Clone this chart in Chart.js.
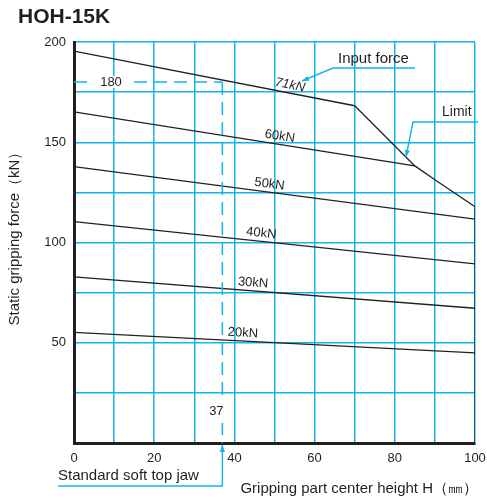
<!DOCTYPE html>
<html>
<head>
<meta charset="utf-8">
<script src="https://cdn.jsdelivr.net/npm/chart.js@4.4.1/dist/chart.umd.min.js"></script>
<style>
  html, body { margin: 0; padding: 0; background: #fff; }
</style>
</head>
<body>
<canvas id="chart" width="487" height="500"></canvas>
<script>
// HOH-15K: static gripping force against gripping part center height

const inputForces = ['20kN', '30kN', '40kN', '50kN', '60kN', '71kN'];
// each curve runs from H = 0 to where it meets the limit line
const curveHeights = [[0, 100], [0, 100], [0, 100], [0, 100], [0, 85], [0, 70]];
const curveForces = [[55.2, 44.9], [82.9, 67.2], [110.4, 89.3], [137.8, 111.7], [165.2, 138.2], [195.5, 168.2]];
// where each curve gets its label
const labelHeights = [42, 44.5, 46.5, 48.5, 51, 53.5];

const limitHeights = [70, 85, 90, 95, 100, 100];
const limitForces = [168.2, 138.2, 131.3, 124.6, 117.8, 0];

// standard soft top jaw reference point
const stdJawHeight = 37;
const stdJawForce = 180;

const xTicks = [0, 20, 40, 60, 80, 100];
const yTicks = [50, 100, 150, 200];

const BLUE = '#14b4ea';
const INK = '#231f20';
const FONT = '"Liberation Sans", Arial, sans-serif';

const curveSets = inputForces.map((name, i) => ({
  label: name,
  data: curveHeights[i].map((x, j) => ({ x, y: curveForces[i][j] })),
  borderColor: INK,
  borderWidth: 1.3,
  pointRadius: 0,
  showLine: true
}));

const limitSet = {
  label: 'Limit',
  data: limitHeights.map((x, j) => ({ x, y: limitForces[j] })),
  borderColor: INK,
  borderWidth: 1.3,
  pointRadius: 0,
  showLine: true
};

const refSets = [
  { label: 'ref-h', data: [{ x: 0, y: stdJawForce }, { x: stdJawHeight, y: stdJawForce }] },
  { label: 'ref-v', data: [{ x: stdJawHeight, y: stdJawForce }, { x: stdJawHeight, y: 0 }] }
].map(d => Object.assign(d, {
  borderColor: BLUE, borderWidth: 1.5, borderDash: [13, 7], pointRadius: 0, showLine: true
}));

function arrowHead(ctx, fx, fy, tx, ty) {
  const a = Math.atan2(ty - fy, tx - fx);
  const len = 7, w = 2.6;
  ctx.beginPath();
  ctx.moveTo(tx, ty);
  ctx.lineTo(tx - len * Math.cos(a) + w * Math.sin(a), ty - len * Math.sin(a) - w * Math.cos(a));
  ctx.lineTo(tx - len * Math.cos(a) - w * Math.sin(a), ty - len * Math.sin(a) + w * Math.cos(a));
  ctx.closePath();
  ctx.fill();
}

function callout(ctx, pts) {
  ctx.beginPath();
  ctx.moveTo(pts[0][0], pts[0][1]);
  for (let i = 1; i < pts.length; i++) ctx.lineTo(pts[i][0], pts[i][1]);
  ctx.stroke();
  const n = pts.length;
  arrowHead(ctx, pts[n - 2][0], pts[n - 2][1], pts[n - 1][0], pts[n - 1][1]);
}

const annotations = {
  id: 'annotations',
  afterDatasetsDraw(chart) {
    const ctx = chart.ctx;
    const xs = chart.scales.x, ys = chart.scales.y;
    const px = v => xs.getPixelForValue(v);
    const py = v => ys.getPixelForValue(v);
    ctx.save();

    // input force labels along each curve
    inputForces.forEach((name, i) => {
      const [x0, x1] = curveHeights[i];
      const [y0, y1] = curveForces[i];
      const lx = labelHeights[i];
      const ly = y0 + (y1 - y0) * (lx - x0) / (x1 - x0);
      const ang = Math.atan2(py(y1) - py(y0), px(x1) - px(x0));
      ctx.save();
      ctx.translate(px(lx), py(ly));
      ctx.rotate(ang);
      ctx.font = (name === '71kN' ? 'italic ' : '') + '13px ' + FONT;
      ctx.fillStyle = INK;
      ctx.textAlign = 'center';
      ctx.textBaseline = 'middle';
      ctx.fillText(name, 0, -8);
      ctx.restore();
    });

    // reference values with a white gap in the dashed line
    ctx.font = '13px ' + FONT;
    ctx.textAlign = 'center';
    ctx.textBaseline = 'middle';
    const tx180 = px(0) + 37, ty180 = py(stdJawForce);
    ctx.fillStyle = '#fff';
    ctx.fillRect(tx180 - 20, ty180 - 6, 40, 12);
    ctx.fillStyle = INK;
    ctx.fillText(String(stdJawForce), tx180, ty180);

    const tx37 = px(stdJawHeight) - 6, ty37 = py(0) - 32;
    ctx.fillStyle = '#fff';
    ctx.fillRect(tx37 - 9, ty37 - 14, 16, 26);
    ctx.fillStyle = INK;
    ctx.fillText(String(stdJawHeight), tx37, ty37);

    // callouts
    ctx.strokeStyle = BLUE;
    ctx.fillStyle = BLUE;
    ctx.lineWidth = 1.4;
    ctx.setLineDash([]);
    callout(ctx, [[415, 68], [333, 68], [302, 81]]);
    callout(ctx, [[478, 122], [413, 122], [406, 157]]);
    callout(ctx, [[58, 486], [px(stdJawHeight), 486], [px(stdJawHeight), py(0) + 2]]);

    ctx.fillStyle = INK;
    ctx.textAlign = 'left';
    ctx.textBaseline = 'middle';
    ctx.font = '15px ' + FONT;
    ctx.fillText('Input force', 338, 59);
    ctx.fillText('Standard soft top jaw', 58, 476);
    ctx.font = '14px ' + FONT;
    ctx.fillText('Limit', 442, 112);

    // axis titles and chart title
    ctx.font = '15px ' + FONT;
    ctx.textAlign = 'right';
    ctx.fillText('Gripping part center height H（㎜）', 478, 489);
    ctx.textAlign = 'center';
    ctx.save();
    ctx.translate(15, 235);
    ctx.rotate(-Math.PI / 2);
    ctx.fillText('Static gripping force（kN）', 0, 0);
    ctx.restore();

    ctx.font = 'bold 21px ' + FONT;
    ctx.textAlign = 'left';
    ctx.fillText('HOH-15K', 18, 17);
    ctx.restore();
  }
};

new Chart(document.getElementById('chart'), {
  type: 'scatter',
  data: { datasets: [...refSets, ...curveSets, limitSet] },
  options: {
    responsive: false,
    animation: false,
    devicePixelRatio: 1,
    layout: { padding: { left: 0, top: 42, right: 12, bottom: 0 } },
    plugins: { legend: { display: false }, tooltip: { enabled: false } },
    elements: { line: { tension: 0 } },
    scales: {
      x: {
        type: 'linear', min: 0, max: 100,
        afterFit: s => { s.height = 57; s.paddingLeft = 0; s.paddingRight = 0; },
        ticks: {
          stepSize: 10, autoSkip: false, maxRotation: 0, padding: 8,
          color: INK, font: { family: FONT, size: 13 },
          callback: v => (xTicks.includes(v) ? v : '')
        },
        grid: { color: BLUE, lineWidth: 1.5, drawTicks: false },
        border: { color: INK, width: 3 }
      },
      y: {
        min: 0, max: 200,
        afterFit: s => { s.width = 74; s.paddingTop = 0; s.paddingBottom = 0; },
        ticks: {
          stepSize: 25, autoSkip: false, padding: 8,
          color: INK, font: { family: FONT, size: 13 },
          callback: v => (yTicks.includes(v) ? v : '')
        },
        grid: { color: BLUE, lineWidth: 1.5, drawTicks: false },
        border: { color: INK, width: 3 }
      }
    }
  },
  plugins: [annotations]
});
</script>
</body>
</html>
